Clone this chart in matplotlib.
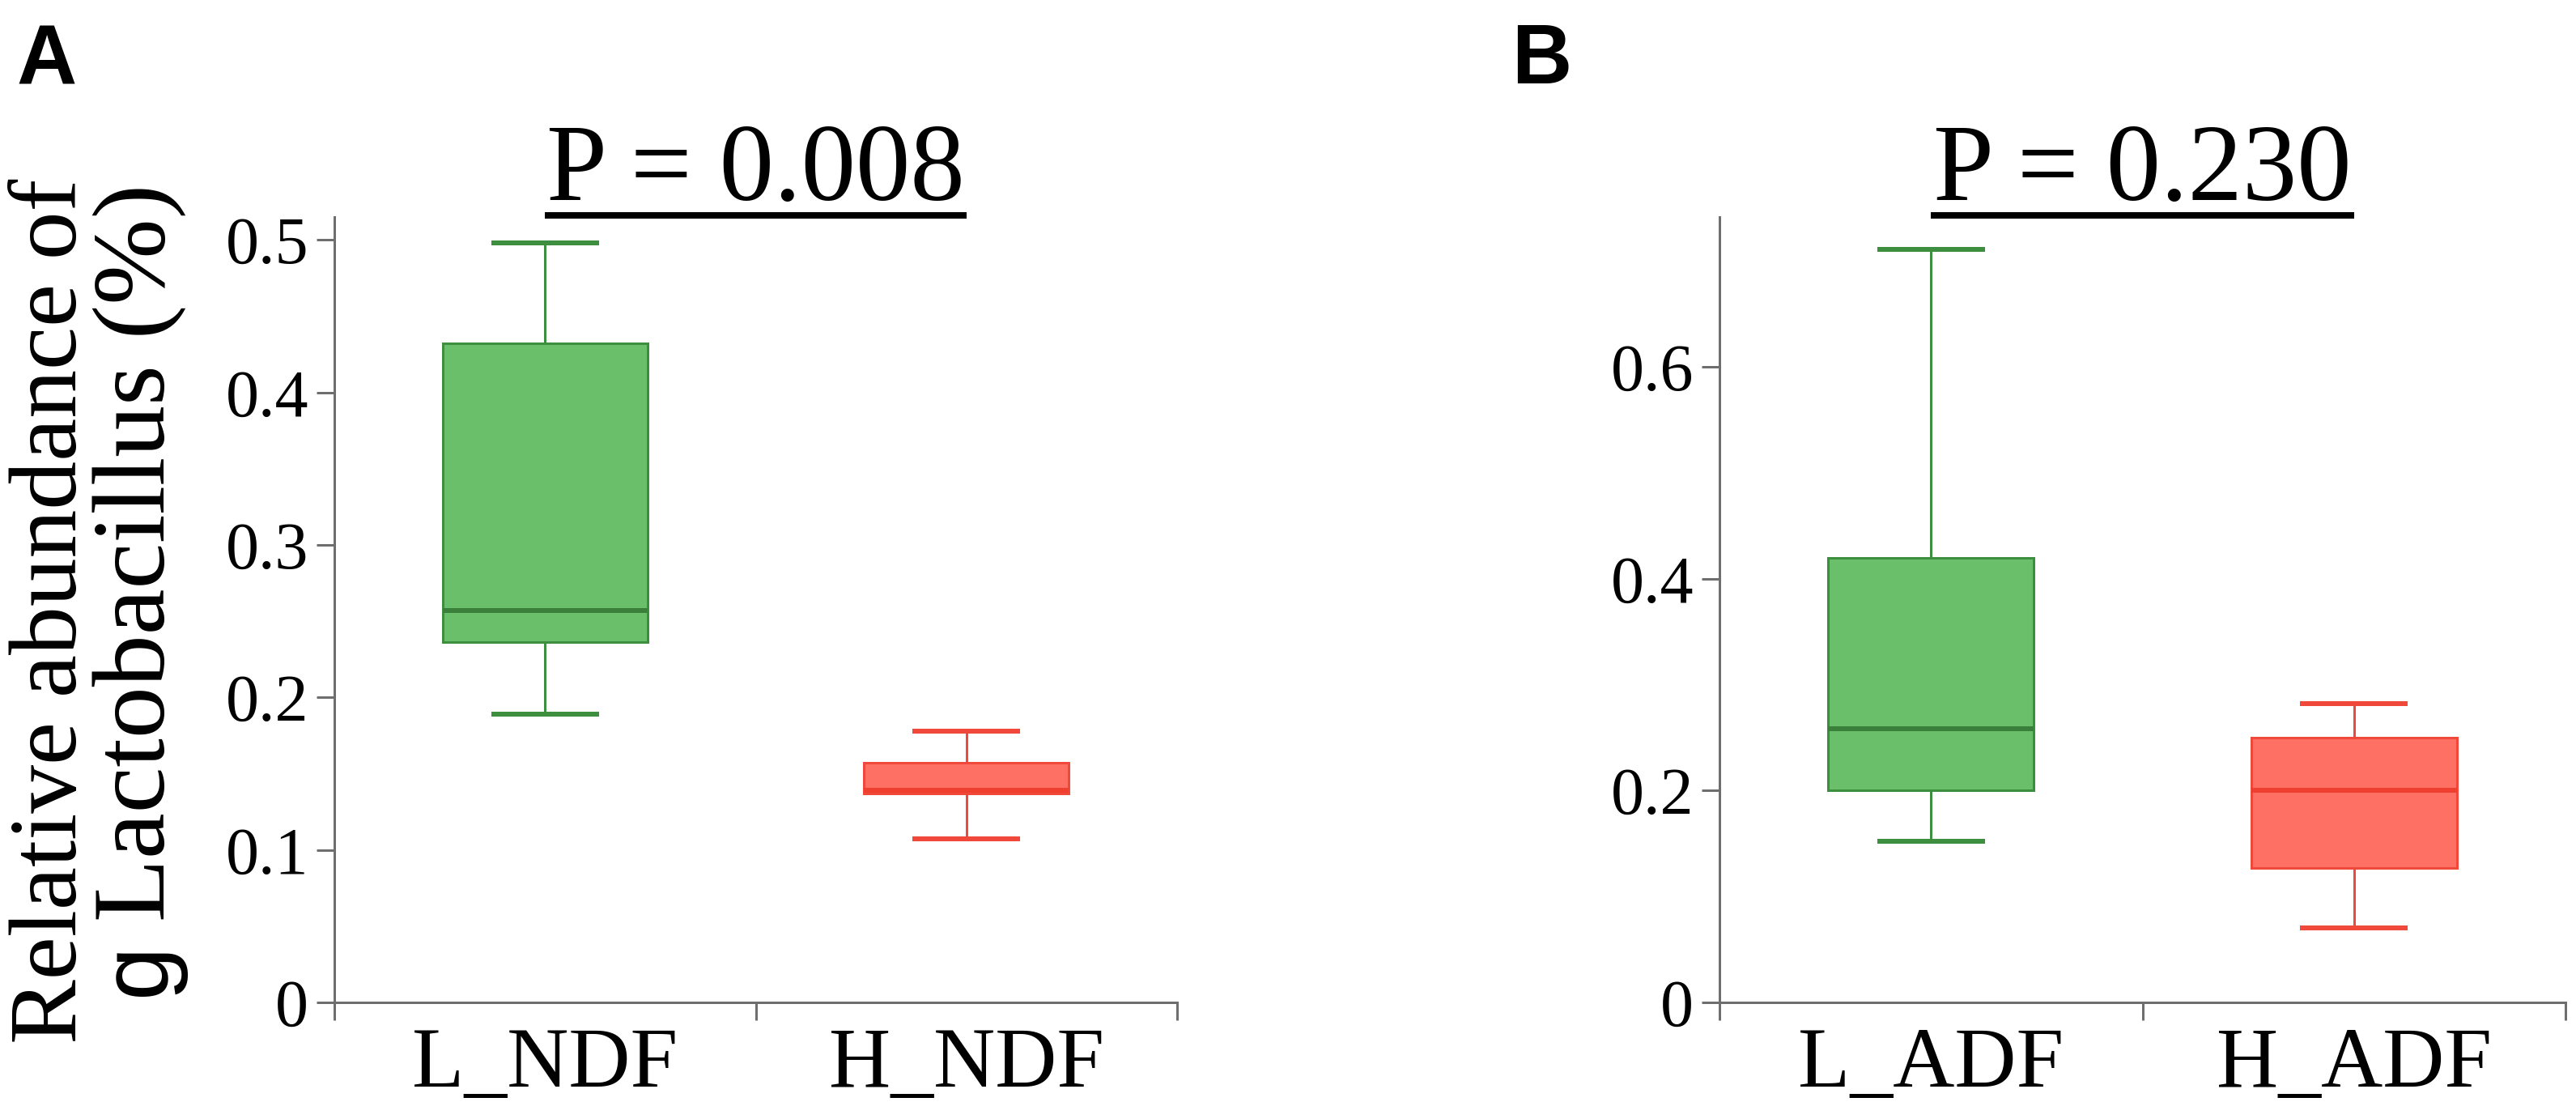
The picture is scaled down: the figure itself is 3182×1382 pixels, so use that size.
import matplotlib
matplotlib.use('Agg')
import matplotlib.pyplot as plt
from matplotlib.ticker import FuncFormatter, FixedLocator

# ---------------- data ----------------
groups_a = ['L_NDF', 'H_NDF']
whislo_a = [0.189, 0.107]
q1_a = [0.236, 0.137]
med_a = [0.257, 0.139]
q3_a = [0.432, 0.157]
whishi_a = [0.498, 0.178]
p_a = 'P = 0.008'
yticks_a = [0, 0.1, 0.2, 0.3, 0.4, 0.5]

groups_b = ['L_ADF', 'H_ADF']
whislo_b = [0.152, 0.070]
q1_b = [0.200, 0.127]
med_b = [0.258, 0.200]
q3_b = [0.420, 0.250]
whishi_b = [0.711, 0.282]
p_b = 'P = 0.230'
yticks_b = [0, 0.2, 0.4, 0.6]

ylabel_1 = 'Relative abundance of'
ylabel_2a = 'g'
ylabel_2b = ' Lactobacillus (%)'

# ---------------- style ----------------
SERIF = ['Liberation Serif', 'DejaVu Serif']
SANS = ['Liberation Sans', 'DejaVu Sans']
fills = ['#6abf6a', '#ff7064']
edges = ['#3d8f3f', '#f0483a']
medc = ['#3a7f3a', '#ee3f2f']
AXC = '#6e6e6e'
PX = 0.72  # points per pixel at dpi 100
W, H = 3182, 1382

fig = plt.figure(figsize=(W / 100, H / 100), dpi=100)
fig.patch.set_facecolor('white')


def panel(rect, groups, lo, q1, med, q3, hi, ytop, yticks, ptxt):
    ax = fig.add_axes(rect)
    n = len(groups)
    for i in range(n):
        st = [dict(whislo=lo[i], q1=q1[i], med=med[i], q3=q3[i], whishi=hi[i], fliers=[])]
        ax.bxp(st, positions=[i], widths=0.486, patch_artist=True, showfliers=False,
               boxprops=dict(facecolor=fills[i], edgecolor=edges[i], linewidth=3 * PX),
               whiskerprops=dict(color=edges[i], linewidth=3 * PX),
               capprops=dict(color=edges[i], linewidth=6 * PX),
               medianprops=dict(color=medc[i], linewidth=6 * PX, solid_capstyle='butt'),
               capwidths=0.244, manage_ticks=False)
    ax.set_xlim(-0.5, n - 0.5)
    ax.set_ylim(0, ytop)
    for s in ['top', 'right']:
        ax.spines[s].set_visible(False)
    for s in ['left', 'bottom']:
        ax.spines[s].set_color(AXC)
        ax.spines[s].set_linewidth(3 * PX)
    ax.yaxis.set_major_locator(FixedLocator(yticks))
    ax.yaxis.set_major_formatter(FuncFormatter(lambda v, p: f'{v:g}'))
    ax.tick_params(axis='y', direction='out', length=22 * PX, width=3 * PX, color=AXC,
                   pad=10 * PX, labelsize=59)
    for lab in ax.get_yticklabels():
        lab.set_family(SERIF)
    ax.set_xticks([i - 0.5 for i in range(n + 1)])
    ax.set_xticklabels([''] * (n + 1))
    ax.set_xticks(list(range(n)), minor=True)
    ax.set_xticklabels(groups, minor=True, family=SERIF, fontsize=76)
    ax.tick_params(axis='x', which='major', direction='out', length=22 * PX, width=3 * PX, color=AXC)
    ax.tick_params(axis='x', which='minor', length=0, pad=22, labelsize=76)
    # significance bar
    ybar = ytop * 1.002
    ax.plot([0, n - 1], [ybar, ybar], color='black', lw=8 * PX, clip_on=False,
            solid_capstyle='butt')
    ax.annotate(ptxt, xy=((n - 1) / 2, ybar), xytext=(0, 14), textcoords='offset points',
                ha='center', va='baseline', fontsize=97, family=SERIF, annotation_clip=False)
    return ax


axA = panel([413 / W, 1 - 1238 / H, 1041 / W, 970 / H],
            groups_a, whislo_a, q1_a, med_a, q3_a, whishi_a, 0.515, yticks_a, p_a)
axB = panel([2124 / W, 1 - 1238 / H, 1045 / W, 970 / H],
            groups_b, whislo_b, q1_b, med_b, q3_b, whishi_b, 0.7415, yticks_b, p_b)

# y label (two lines), baselines at x=94 and x=203 px
LS = 86
fig.text(94 / W, 1 - 755 / H, ylabel_1, rotation=90, rotation_mode='anchor',
         ha='center', va='baseline', fontsize=LS, family=SERIF)

renderer = fig.canvas.get_renderer()
t_g = fig.text(203 / W, 1 - 1230 / H, ylabel_2a, rotation=90, rotation_mode='anchor',
               ha='left', va='baseline', fontsize=LS, family=SANS)
t_rest = fig.text(203 / W, 0, ylabel_2b, rotation=90, rotation_mode='anchor',
                  ha='left', va='baseline', fontsize=92, family=SERIF)
# advance of "g" along the rotated direction
g_ext = t_g.get_window_extent(renderer)
start_rest = 1 - 1230 / H + (g_ext.height) / H - 6 / H
t_rest.set_position((203 / W, start_rest))

# panel letters
fig.text(20 / W, 1 - 28 / H, 'A', ha='left', va='top', fontsize=74,
         fontweight='bold', family=SANS)
fig.text(1867 / W, 1 - 28 / H, 'B', ha='left', va='top', fontsize=74,
         fontweight='bold', family=SANS)

fig.savefig('out.png', dpi=100, facecolor='white')
